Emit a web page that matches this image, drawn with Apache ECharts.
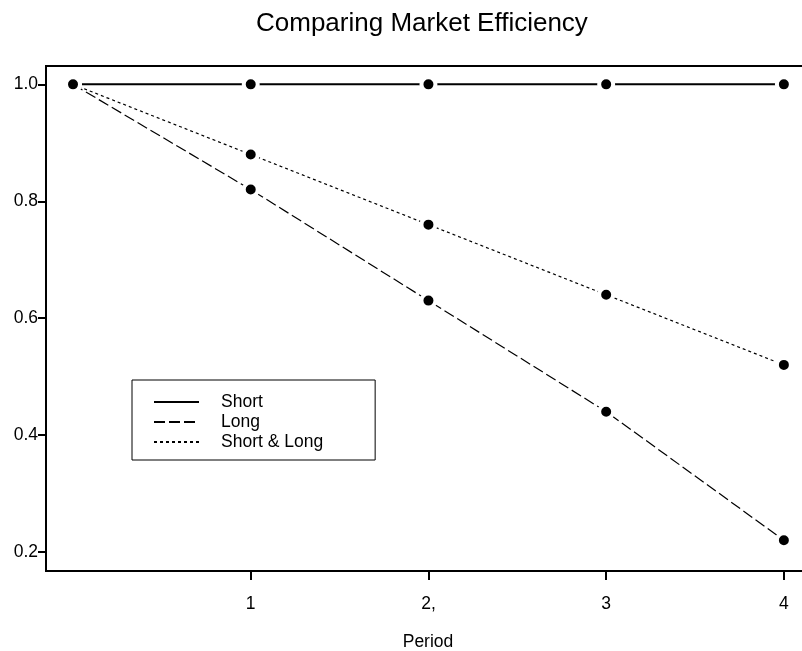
<!DOCTYPE html>
<html>
<head>
<meta charset="utf-8">
<script src="https://cdn.jsdelivr.net/npm/echarts@6/dist/echarts.min.js"></script>
<style>
  html, body {margin: 0; padding: 0; background: #fff;}
  #chart {width: 802px; height: 651px;}
</style>
</head>
<body>
<div id="chart"></div>
<script>
// values
const periods = [0, 1, 2, 3, 4]
const shortVals = [1, 1, 1, 1, 1]
const longVals = [1, 0.82, 0.63, 0.44, 0.22]
const bothVals = [1, 0.88, 0.76, 0.64, 0.52]
const seriesNames = ['Short', 'Long', 'Short & Long']
const xTickValues = [1, 2, 3, 4]
const xTickLabels = ['1', '2,', '3', '4']
const yTickValues = [0.2, 0.4, 0.6, 0.8, 1.0]

const FONT = 'Liberation Sans, Arial, sans-serif'

const pairs = vals => periods.map((p, i) => [p, vals[i]])

const lineSeries = (name, vals, type, width) => ({
  name,
  type: 'line',
  data: pairs(vals),
  symbol: 'circle',
  symbolSize: 14,
  itemStyle: {color: '#000', borderColor: '#fff', borderWidth: 4},
  lineStyle: {color: '#000', width, type},
  emphasis: {disabled: true},
})

const chart = echarts.init(document.getElementById('chart'))

chart.setOption({
  animation: false,
  backgroundColor: '#fff',
  textStyle: {fontFamily: FONT, color: '#000'},
  title: {
    text: 'Comparing Market Efficiency',
    left: 251,
    top: 6,
    textStyle: {fontFamily: FONT, fontSize: 26, fontWeight: 'normal', color: '#000'},
  },
  grid: {
    left: 46, top: 66, right: -8, bottom: 80,
    outerBoundsMode: 'none',
    containLabel: false,
    show: true, borderColor: '#000', borderWidth: 2,
  },
  legend: {
    orient: 'vertical',
    left: 132,
    top: 380,
    padding: [13, 52, 9, 21],
    borderColor: '#000',
    borderWidth: 1,
    itemWidth: 45,
    itemHeight: 18,
    itemGap: 2,
    data: seriesNames,
    itemStyle: {opacity: 0},
    textStyle: {fontFamily: FONT, fontSize: 17.5, color: '#000', lineHeight: 18, padding: [0, 0, 0, 17]},
  },
  xAxis: {
    type: 'value',
    min: -0.152,
    max: 4.147,
    name: 'Period',
    nameLocation: 'middle',
    nameGap: 62,
    nameTextStyle: {fontFamily: FONT, fontSize: 17.5, color: '#000'},
    axisLine: {show: true, onZero: false, lineStyle: {color: '#000', width: 2}},
    axisTick: {show: true, length: 9, customValues: xTickValues, lineStyle: {color: '#000', width: 2}},
    axisLabel: {
      customValues: xTickValues,
      margin: 24,
      fontFamily: FONT, fontSize: 17.5, color: '#000',
      formatter: v => xTickLabels[xTickValues.indexOf(Math.round(v))] || '',
    },
    splitLine: {show: false},
  },
  yAxis: {
    type: 'value',
    min: 0.1674,
    max: 1.0314,
    axisLine: {show: true, onZero: false, lineStyle: {color: '#000', width: 2}},
    axisTick: {show: true, length: 8, customValues: yTickValues, lineStyle: {color: '#000', width: 2}},
    axisLabel: {
      customValues: yTickValues,
      margin: 8,
      fontFamily: FONT, fontSize: 17.5, color: '#000',
      formatter: v => v.toFixed(1),
    },
    splitLine: {show: false},
  },
  series: [
    lineSeries(seriesNames[0], shortVals, 'solid', 2),
    lineSeries(seriesNames[1], longVals, [11, 4], 1.2),
    lineSeries(seriesNames[2], bothVals, [3, 3], 1.2),
  ],
})
</script>
</body>
</html>
